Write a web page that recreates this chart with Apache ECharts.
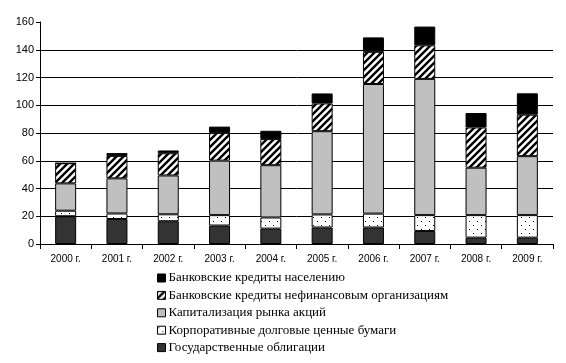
<!DOCTYPE html>
<html><head><meta charset="utf-8">
<script src="https://cdn.jsdelivr.net/npm/echarts@6/dist/echarts.min.js"></script>
<style>html,body{margin:0;padding:0;background:#fff}#c{width:566px;height:363px}</style>
</head><body><div id="c"></div>
<script>
var categories = ['2000 г.','2001 г.','2002 г.','2003 г.','2004 г.','2005 г.','2006 г.','2007 г.','2008 г.','2009 г.'];
var seriesNames = ['Государственные облигации','Корпоративные долговые ценные бумаги','Капитализация рынка акций','Банковские кредиты нефинансовым организациям','Банковские кредиты населению'];
var govBonds = [20, 18, 16.4, 13.3, 11.1, 11.9, 11.9, 9.4, 4.6, 4.6];
var corpBonds = [4, 4, 5, 7.5, 8, 9.4, 10, 11.4, 16.2, 16.2];
var stockCap = [19.7, 25.3, 28, 39.3, 37.7, 60, 93.4, 98.2, 34.2, 42.5];
var loansCorp = [14.5, 16.2, 16, 20, 18.8, 20, 23.2, 24.2, 29, 29.9];
var loansHouse = [0, 2, 2, 4.5, 6, 7.2, 10.4, 13.5, 10.4, 15.4];
var yTicks = [0, 20, 40, 60, 80, 100, 120, 140, 160];

function hatch() {
  var c = document.createElement('canvas'); c.width = 7; c.height = 7;
  var g = c.getContext('2d');
  g.fillStyle = '#fff'; g.fillRect(0,0,7,7);
  g.strokeStyle = '#000'; g.lineWidth = 2.4;
  g.beginPath();
  g.moveTo(-1,8); g.lineTo(8,-1);
  g.moveTo(-4.5,4.5); g.lineTo(4.5,-4.5);
  g.moveTo(2.5,11.5); g.lineTo(11.5,2.5);
  g.stroke();
  return c;
}
function dots() {
  var c = document.createElement('canvas'); c.width = 8; c.height = 8;
  var g = c.getContext('2d');
  g.fillStyle = '#fff'; g.fillRect(0,0,8,8);
  g.fillStyle = '#000';
  g.fillRect(1,1,1,1); g.fillRect(5,5,1,1);
  return c;
}
var fills = ['#333333', {image: dots(), repeat: 'repeat'}, '#c0c0c0', {image: hatch(), repeat: 'repeat'}, '#000000'];
var datas = [govBonds, corpBonds, stockCap, loansCorp, loansHouse];

var series = datas.map(function(d, i) {
  return {
    name: seriesNames[i], type: 'bar', stack: 'a', barWidth: 21,
    data: d,
    itemStyle: {color: fills[i], borderColor: '#000', borderWidth: 1},
    emphasis: {disabled: true}
  };
});

var chart = echarts.init(document.getElementById('c'), null, {renderer: 'canvas'});
chart.setOption({
  animation: false,
  grid: {left: 40, right: 13, top: 22, bottom: 119, containLabel: false},
  legend: {
    orient: 'vertical', left: 157, top: 271, padding: 0, height: 92,
    icon: 'rect',
    itemWidth: 8, itemHeight: 8, itemGap: 3.4,
    data: seriesNames.slice().reverse(),
    textStyle: {fontFamily: 'Liberation Serif', fontSize: 13, color: '#000', lineHeight: 14, padding: [0,0,0,-2]},
    itemStyle: {borderColor: '#000', borderWidth: 1}
  },
  xAxis: {
    type: 'category', data: categories,
    axisLine: {lineStyle: {color: '#000', width: 1}},
    axisTick: {show: true, alignWithLabel: false, length: 5, lineStyle: {color: '#000'}},
    axisLabel: {fontFamily: 'Liberation Sans', fontSize: 10, color: '#000', margin: 10}
  },
  yAxis: {
    type: 'value', min: 0, max: 160, interval: 20,
    axisLine: {show: true, lineStyle: {color: '#000', width: 1}},
    axisTick: {show: true, length: 4, lineStyle: {color: '#000'}},
    axisLabel: {fontFamily: 'Liberation Sans', fontSize: 11, color: '#000', margin: 6,
      formatter: function(v){ return yTicks.indexOf(v) >= 0 ? String(v) : ''; }},
    splitLine: {show: true, showMaxLine: false, lineStyle: {color: '#000', width: 1}}
  },
  series: series
});
</script></body></html>
